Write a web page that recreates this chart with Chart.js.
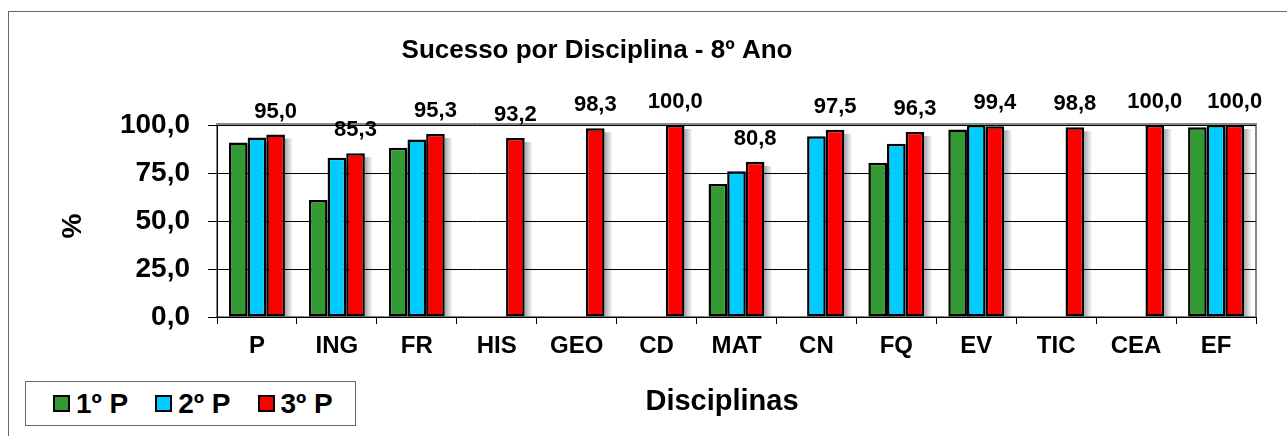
<!DOCTYPE html>
<html lang="pt">
<head>
  <meta charset="UTF-8">
  <title>Sucesso por Disciplina - 8º Ano</title>
  <script src="https://cdn.jsdelivr.net/npm/chart.js"></script>
  <style>
    html, body { margin: 0; padding: 0; background: #fff; overflow: hidden; }
    body { width: 1287px; height: 436px; position: relative; font-family: 'Liberation Sans', Arial, sans-serif; }
    /* outer frame (only top/left edges visible) */
    .frame { position: absolute; left: 8px; top: 11px; width: 1400px; height: 500px; border-left: 1px solid #666; border-top: 1px solid #666; }
    .wrap { position: absolute; left: 0; top: 0; width: 1287px; height: 436px; }
    /* legend */
    .legend { position: absolute; left: 25px; top: 381px; width: 329px; height: 43px; border: 1px solid #666; background: #fff;
              display: flex; align-items: center; font-weight: bold; font-size: 28px; color: #000; }
    .legend span.item { display: flex; align-items: center; }
    .legend i { display: inline-block; width: 13px; height: 13px; border: 2px solid #000; margin-right: 6px; }
  </style>
</head>
<body>
  <div class="frame"></div>
  <div class="wrap"><canvas id="chart"></canvas></div>
  <div class="legend" id="legend"></div>

  <script>
    // data
    const disciplinas = ['P', 'ING', 'FR', 'HIS', 'GEO', 'CD', 'MAT', 'CN', 'FQ', 'EV', 'TIC', 'CEA', 'EF'];
    const periodo1 = [90.9, 60.9, 88.1, null, null, null, 69.3, null, 80.3, 97.7, null, null, 98.8];
    const periodo2 = [93.5, 82.9, 92.5, null, null, null, 75.9, 94.1, 90.2, 100.0, null, null, 100.0];
    const periodo3 = [95.0, 85.3, 95.3, 93.2, 98.3, 100.0, 80.8, 97.5, 96.3, 99.4, 98.8, 100.0, 100.0];
    const seriesNames = ['1º P', '2º P', '3º P'];
    const yTicks = [0, 25, 50, 75, 100];

    const colors = ['#339933', '#00CCFF', '#FF0000'];
    const FONT = "'Liberation Sans', Arial, sans-serif";
    const fmt = v => v.toFixed(1).replace('.', ',');

    // legend (html)
    const lg = document.getElementById('legend');
    seriesNames.forEach((n, i) => {
      const s = document.createElement('span');
      s.className = 'item';
      s.style.marginLeft = i === 0 ? '27px' : '27px';
      s.innerHTML = `<i style="background:${colors[i]}"></i>${n}`;
      lg.appendChild(s);
    });

    // plot border, bar shadows, labels, titles
    const decor = {
      id: 'decor',
      beforeDatasetsDraw(chart) {
        const { ctx } = chart;
        ctx.save();
        chart.data.datasets.forEach((ds, di) => {
          chart.getDatasetMeta(di).data.forEach((bar, i) => {
            if (ds.data[i] == null) return;
            const x0 = bar.x + bar.width / 2;
            const g = ctx.createLinearGradient(x0, 0, x0 + 8, 0);
            g.addColorStop(0, 'rgba(0,0,0,0.35)');
            g.addColorStop(1, 'rgba(0,0,0,0)');
            ctx.fillStyle = g;
            ctx.fillRect(x0, bar.y + 4, 8, bar.base - bar.y - 4);
          });
        });
        ctx.restore();
      },
      afterDatasetsDraw(chart) {
        const { ctx } = chart;
        ctx.save();
        // value labels for 3rd period
        ctx.font = `bold 22px ${FONT}`;
        ctx.fillStyle = '#000';
        ctx.textAlign = 'center';
        ctx.textBaseline = 'middle';
        chart.getDatasetMeta(2).data.forEach((bar, i) => {
          const v = chart.data.datasets[2].data[i];
          if (v == null) return;
          ctx.fillText(fmt(v), bar.x, bar.y - 23);
        });
        // titles
        ctx.font = `bold 26px ${FONT}`;
        ctx.fillText('Sucesso por Disciplina - 8º Ano', 597, 51);
        ctx.font = `bold 29px ${FONT}`;
        ctx.fillText('Disciplinas', 722, 402);
        ctx.translate(73, 226);
        ctx.rotate(-Math.PI / 2);
        ctx.font = `bold 28px ${FONT}`;
        ctx.fillText('%', 0, 0);
        ctx.restore();
      },
      beforeDraw(chart) {
        const { ctx, chartArea: a } = chart;
        ctx.save();
        ctx.strokeStyle = '#888';
        ctx.lineWidth = 2;
        ctx.strokeRect(a.left, a.top - 1, a.right - a.left, a.bottom - a.top + 1);
        ctx.restore();
      }
    };

    new Chart(document.getElementById('chart'), {
      type: 'bar',
      data: {
        labels: disciplinas,
        datasets: [periodo1, periodo2, periodo3].map((d, i) => ({
          label: seriesNames[i],
          data: d,
          backgroundColor: colors[i],
          borderColor: '#000',
          borderWidth: 2.5,
          borderSkipped: false,
          categoryPercentage: 0.7,
          barPercentage: 1.0
        }))
      },
      options: {
        responsive: true,
        maintainAspectRatio: false,
        animation: false,
        layout: { padding: { left: 0, top: 125, right: 31, bottom: 0 } },
        plugins: {
          legend: { display: false },
          tooltip: { enabled: false },
          title: { display: false }
        },
        scales: {
          x: {
            afterFit: s => { s.height = 119; },
            grid: { offset: true, drawOnChartArea: false, color: '#000', tickLength: 7 },
            border: { color: '#000', width: 1 },
            ticks: { color: '#000', font: { family: FONT, size: 24, weight: 'bold' }, padding: 8, maxRotation: 0 }
          },
          y: {
            min: 0,
            max: 100,
            afterFit: s => { s.width = 217; },
            afterBuildTicks: s => { s.ticks = yTicks.map(v => ({ value: v })); },
            grid: { color: '#000', tickLength: 9 },
            border: { color: '#000', width: 1 },
            ticks: { color: '#000', font: { family: FONT, size: 28, weight: 'bold' }, padding: 18, callback: v => fmt(v) }
          }
        }
      },
      plugins: [decor]
    });
  </script>
</body>
</html>
